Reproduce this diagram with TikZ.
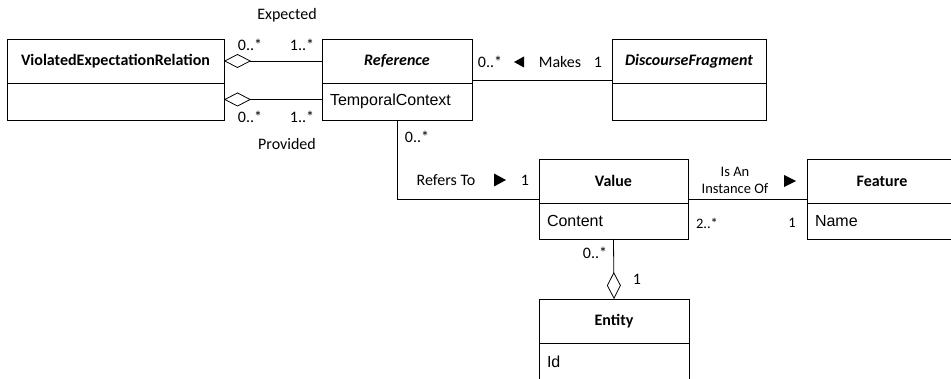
\documentclass[tikz,border=0pt]{standalone}
\usepackage{fontspec}
\setmainfont{Carlito}
\newfontfamily\attrfont{Liberation Sans}
\usetikzlibrary{arrows.meta,calc}

\tikzset{
  hdr/.style={draw, line width=0.8pt, inner sep=0pt, outer sep=0pt,
              minimum height=44pt, font=\fontsize{16}{19}\selectfont\bfseries},
  bdy/.style={draw, line width=0.8pt, inner ysep=0pt, inner xsep=8pt, outer sep=0pt,
              align=left, font=\attrfont\fontsize{16}{19}\selectfont},
  lbl/.style={inner sep=0pt, font=\fontsize{16}{19}\selectfont},
  slbl/.style={inner sep=0pt, align=center, font=\fontsize{14.5}{17}\selectfont},
  assoc/.style={line width=0.8pt},
  agg/.style={line width=0.8pt, -{Diamond[open, length=27pt, width=14pt, line width=0.8pt]}}
}

\begin{document}
\begin{tikzpicture}[x=1pt, y=-1pt]
  \clip (0,0) rectangle (951,379);
  \fill[white] (0,0) rectangle (951,379);

  % classes: header compartment + attribute compartment
  \node[hdr, minimum width=217pt, anchor=north west] (ver) at (7,39) {ViolatedExpectationRelation};
  \node[bdy, text width=201pt, minimum height=37pt, anchor=north west] (verb) at (ver.south west) {};

  \node[hdr, minimum width=150pt, anchor=north west] (ref) at (322,39) {\itshape Reference};
  \node[bdy, text width=134pt, minimum height=37pt, anchor=north west] (refb) at (ref.south west) {TemporalContext};

  \node[hdr, minimum width=154pt, anchor=north west] (df) at (612,39) {\itshape DiscourseFragment};
  \node[bdy, text width=138pt, minimum height=37pt, anchor=north west] (dfb) at (df.south west) {};

  \node[hdr, minimum width=149pt, anchor=north west] (val) at (539,159) {Value};
  \node[bdy, text width=133pt, minimum height=36pt, anchor=north west] (valb) at (val.south west) {Content};

  \node[hdr, minimum width=150pt, anchor=north west] (feat) at (807,159) {Feature};
  \node[bdy, text width=134pt, minimum height=36pt, anchor=north west] (featb) at (feat.south west) {Name};

  \node[hdr, minimum width=150pt, anchor=north west] (ent) at (539,299) {Entity};
  \node[bdy, text width=134pt, minimum height=37pt, anchor=north west] (entb) at (ent.south west) {Id};

  % associations and aggregations
  \draw[agg] (ref.west) -- (ver.east);
  \draw[agg] ([yshift=2pt]refb.west) -- ([yshift=2pt]verb.east);
  \draw[assoc] ([yshift=3pt]ref.south east) -- ([yshift=3pt]df.south west);
  \draw[assoc] (refb.south) |- ([yshift=4pt]val.south west);
  \draw[assoc] ([yshift=4pt]val.south east) -- ([yshift=4pt]feat.south west);
  \draw[agg] (valb.south) -- (ent.north);

  % role names and multiplicities
  \node[lbl] (lexp) at (287,15) {Expected};
  \node[lbl] (m1) at (250,45) {0..*};
  \node[lbl] (m2) at (302,45) {1..*};
  \node[lbl] (m3) at (250,117) {0..*};
  \node[lbl] (m4) at (302,117) {1..*};
  \node[lbl] (lprov) at (287,144) {Provided};

  \node[lbl] (m5) at (490,62) {0..*};
  \node[lbl] (lmakes) at (560,62) {Makes};
  \node[lbl] (m6) at (598,62) {1};
  \fill (514,62) -- (524,56.5) -- (524,67.5) -- cycle;

  \node[lbl] (m7) at (417,137) {0..*};
  \node[lbl] (lrefers) at (446,180) {Refers To};
  \node[lbl] (m8) at (525,180) {1};
  \fill (506,180) -- (494,173.5) -- (494,186.5) -- cycle;

  \node[slbl] (linst) at (735,180.5) {Is An\\Instance Of};
  \fill (796,181) -- (784,175) -- (784,187) -- cycle;
  \node[slbl] (m9) at (707,223) {2..*};
  \node[slbl] (m10) at (792,223) {1};

  \node[lbl] (m11) at (595,253) {0..*};
  \node[lbl] (m12) at (637,279) {1};
\end{tikzpicture}
\end{document}
